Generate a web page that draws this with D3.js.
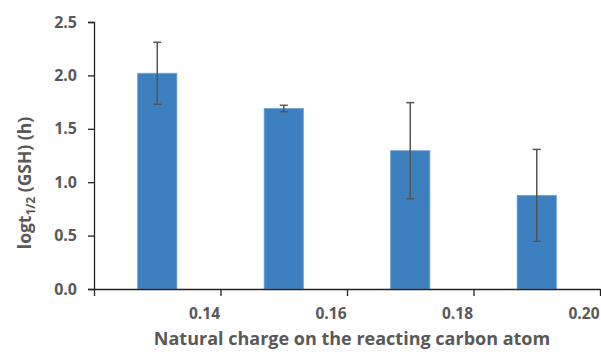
<!DOCTYPE html>
<html>
<head>
<meta charset="utf-8">
<script src="https://cdn.jsdelivr.net/npm/d3@7"></script>
<style>
  body { margin: 0; background: #fff; }
  text { font-family: "Open Sans", "Liberation Sans", sans-serif; font-weight: bold; fill: #595959; }
</style>
</head>
<body>
<script>
var width = 601,
    height = 353;

// data
var charges = [0.13, 0.15, 0.17, 0.19];
var logHalfLife = [2.02, 1.69, 1.295, 0.877];
var errors = [0.29, 0.03, 0.45, 0.43];
var xTicks = [0.12, 0.14, 0.16, 0.18, 0.20];
var yTicks = [0, 0.5, 1.0, 1.5, 2.0, 2.5];

var margin = {left: 94, right: 1, top: 22, bottom: 64};

var svg = d3.select('body')
    .append('svg')
    .attr('width', width)
    .attr('height', height);

var x = d3.scaleLinear().domain([0.12, 0.20]).range([margin.left, width - margin.right]);
var y = d3.scaleLinear().domain([0, 2.5]).range([height - margin.bottom, margin.top]);

var barW = x(0.12 + 0.0062) - x(0.12);

var data = charges.map(function(c, i) { return {c: c, v: logHalfLife[i], e: errors[i]}; });

// bars
svg.append('g').selectAll('rect')
    .data(data)
    .enter().append('rect')
      .attr('x', function(d) { return x(d.c) - barW / 2; })
      .attr('y', function(d) { return y(d.v); })
      .attr('width', barW)
      .attr('height', function(d) { return y(0) - y(d.v); })
      .attr('fill', '#3d80bf')
      .attr('stroke', '#6fa3d6')
      .attr('stroke-width', 0.8);

// error bars
var eb = svg.append('g').attr('stroke', '#555').attr('stroke-width', 1.5);
data.forEach(function(d) {
  var cx = x(d.c);
  eb.append('line').attr('x1', cx).attr('x2', cx).attr('y1', y(d.v + d.e)).attr('y2', y(d.v - d.e));
  eb.append('line').attr('x1', cx - 4).attr('x2', cx + 4).attr('y1', y(d.v + d.e)).attr('y2', y(d.v + d.e));
  eb.append('line').attr('x1', cx - 4).attr('x2', cx + 4).attr('y1', y(d.v - d.e)).attr('y2', y(d.v - d.e));
});

// y axis
var yAxis = svg.append('g')
    .attr('transform', 'translate(' + margin.left + ',0)')
    .call(d3.axisLeft(y).tickValues(yTicks).tickFormat(d3.format('.1f')).tickSize(6).tickPadding(11));
yAxis.select('.domain').attr('stroke', '#222').attr('stroke-width', 1.3);
yAxis.selectAll('.tick line').attr('stroke', '#222').attr('stroke-width', 1.3);
yAxis.selectAll('text').style('font-size', '16px').attr('fill', '#595959');

// x axis (labels sit just left of their tick, as in the original)
var xAxis = svg.append('g')
    .attr('transform', 'translate(0,' + y(0) + ')')
    .call(d3.axisBottom(x).tickValues(xTicks)
      .tickFormat(function(d) { return d === 0.12 ? '' : d3.format('.2f')(d); })
      .tickSize(7).tickSizeOuter(0).tickPadding(12));
xAxis.select('.domain').attr('stroke', '#222').attr('stroke-width', 1.3);
xAxis.selectAll('.tick line').attr('stroke', '#222').attr('stroke-width', 1.3);
xAxis.selectAll('text')
    .style('font-size', '15.5px')
    .attr('fill', '#595959')
    .attr('text-anchor', 'end')
    .attr('x', -1);

// axis titles
svg.append('text')
    .attr('x', 352)
    .attr('y', 345)
    .attr('text-anchor', 'middle')
    .style('font-size', '18px')
    .text('Natural charge on the reacting carbon atom');

var yl = svg.append('text')
    .attr('transform', 'translate(31,' + 183 + ') rotate(-90)')
    .attr('text-anchor', 'middle')
    .style('font-size', '17.5px');
yl.append('tspan').text('logt');
yl.append('tspan').attr('dy', 4).style('font-size', '12px').text('1/2');
yl.append('tspan').attr('dy', -4).text(' (GSH) (h)');
</script>
</body>
</html>
